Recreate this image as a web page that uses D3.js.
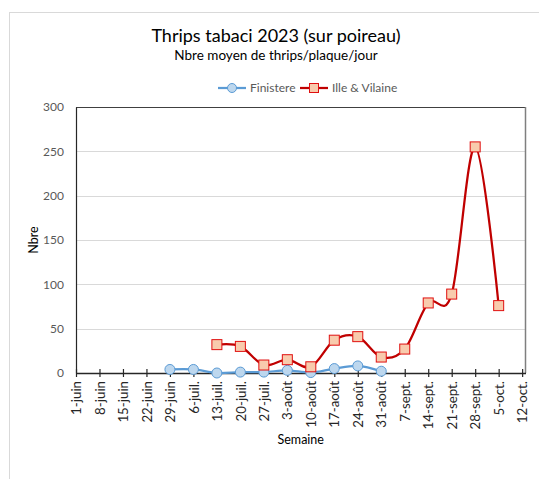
<!DOCTYPE html>
<html>
<head>
<meta charset="utf-8">
<script src="https://cdn.jsdelivr.net/npm/d3@7"></script>
<style>
  html, body { margin: 0; padding: 0; background: #fff; }
  svg { display: block; font-family: Lato, "Open Sans", sans-serif; font-weight: 400; }
</style>
</head>
<body>
<svg id="chart" width="539" height="479"></svg>
<script>
// ---- Data ----
const tickDates = ["2023-06-01","2023-06-08","2023-06-15","2023-06-22","2023-06-29","2023-07-06","2023-07-13","2023-07-20","2023-07-27","2023-08-03","2023-08-10","2023-08-17","2023-08-24","2023-08-31","2023-09-07","2023-09-14","2023-09-21","2023-09-28","2023-10-05","2023-10-12"];
const tickLabels = ["1-juin","8-juin","15-juin","22-juin","29-juin","6-juil.","13-juil.","20-juil.","27-juil.","3-août","10-août","17-août","24-août","31-août","7-sept.","14-sept.","21-sept.","28-sept.","5-oct.","12-oct."];

const finistereDates = ["2023-06-29","2023-07-06","2023-07-13","2023-07-20","2023-07-27","2023-08-03","2023-08-10","2023-08-17","2023-08-24","2023-08-31"];
const finistereValues = [4, 4, 0, 1, 1, 3, 0.5, 5, 8, 2];

const illeDates = ["2023-07-13","2023-07-20","2023-07-27","2023-08-03","2023-08-10","2023-08-17","2023-08-24","2023-08-31","2023-09-07","2023-09-14","2023-09-21","2023-09-28","2023-10-05"];
const illeValues = [32, 30, 9, 15, 7, 37, 41, 18, 27, 79, 89, 255, 76];

const yTicks = [0, 50, 100, 150, 200, 250, 300];

// ---- Layout ----
const parse = d3.utcParse("%Y-%m-%d");
const svg = d3.select("#chart");
const plot = { left: 76, right: 525.5, top: 107, bottom: 373 };

// outer chart border (light)
svg.append("rect").attr("x", 9.5).attr("y", 12.5).attr("width", 600).attr("height", 600)
  .attr("fill", "none").attr("stroke", "#d9d9d9");

const x = d3.scaleUtc()
  .domain([parse("2023-06-01"), parse("2023-10-13")])
  .range([plot.left, plot.right]);
const y = d3.scaleLinear().domain([0, 300]).range([plot.bottom, plot.top]);

// gridlines
svg.append("g").selectAll("line").data(yTicks.filter(d => d > 0 && d < 300)).join("line")
  .attr("x1", plot.left).attr("x2", plot.right)
  .attr("y1", d => Math.round(y(d)) + 0.5).attr("y2", d => Math.round(y(d)) + 0.5)
  .attr("stroke", "#d9d9d9").attr("stroke-width", 1);

// plot border
svg.append("line").attr("x1", plot.left).attr("x2", plot.right).attr("y1", plot.top + 0.5).attr("y2", plot.top + 0.5)
  .attr("stroke", "#404040");
svg.append("line").attr("x1", plot.right).attr("x2", plot.right).attr("y1", plot.top).attr("y2", plot.bottom)
  .attr("stroke", "#7f7f7f").attr("stroke-width", 1.5);

// y axis
const yAxis = d3.axisLeft(y).tickValues(yTicks).tickSize(0).tickPadding(12);
const gy = svg.append("g").attr("transform", `translate(${plot.left},0)`).call(yAxis);
gy.select(".domain").attr("stroke", "#262626").attr("stroke-width", 1.2);
gy.selectAll("text").attr("fill", "#595959").style("font-size", "12px").style("font-family", "Lato, sans-serif");

// x axis
const xAxis = d3.axisBottom(x).tickValues(tickDates.map(parse))
  .tickFormat((d, i) => tickLabels[i]).tickSizeInner(4).tickSizeOuter(0).tickPadding(8);
const gx = svg.append("g").attr("transform", `translate(0,${plot.bottom})`).call(xAxis);
gx.select(".domain").attr("stroke", "#262626").attr("stroke-width", 1.5);
gx.selectAll(".tick line").attr("stroke", "#262626").attr("y1", -4).attr("y2", 4).attr("stroke-width", 1.2);
gx.selectAll("text")
  .attr("fill", "#262626").style("font-size", "13.3px").style("font-family", "Lato, sans-serif")
  .attr("transform", "rotate(-90)")
  .attr("x", -8).attr("y", 0).attr("dy", "0.35em")
  .attr("text-anchor", "end");

// series
const finData = finistereDates.map((d, i) => ({ date: parse(d), value: finistereValues[i] }));
const illeData = illeDates.map((d, i) => ({ date: parse(d), value: illeValues[i] }));

const line = d3.line().x(d => x(d.date)).y(d => y(d.value)).curve(d3.curveCardinal.tension(0));

svg.append("path").datum(finData).attr("d", line)
  .attr("fill", "none").attr("stroke", "#5b9bd5").attr("stroke-width", 2.25);
svg.append("path").datum(illeData).attr("d", line)
  .attr("fill", "none").attr("stroke", "#c00000").attr("stroke-width", 2.25);

svg.append("g").selectAll("circle").data(finData).join("circle")
  .attr("cx", d => x(d.date)).attr("cy", d => y(d.value)).attr("r", 5)
  .attr("fill", "#bdd7ee").attr("stroke", "#5b9bd5").attr("stroke-width", 1);

svg.append("g").selectAll("rect").data(illeData).join("rect")
  .attr("x", d => x(d.date) - 5).attr("y", d => y(d.value) - 5)
  .attr("width", 10).attr("height", 10)
  .attr("fill", "#f8cbad").attr("stroke", "#e01010").attr("stroke-width", 1);

// titles
svg.append("text").attr("x", 276).attr("y", 42).attr("text-anchor", "middle")
  .style("font-size", "18px").attr("fill", "#000").text("Thrips tabaci 2023 (sur poireau)");
svg.append("text").attr("x", 276).attr("y", 60).attr("text-anchor", "middle")
  .style("font-size", "13.5px").attr("fill", "#000").text("Nbre moyen de thrips/plaque/jour");

// axis titles
svg.append("text").attr("transform", `translate(38,${(plot.top + plot.bottom) / 2}) rotate(-90)`)
  .attr("text-anchor", "middle").style("font-size", "12.5px").attr("fill", "#000").text("Nbre");
svg.append("text").attr("x", (plot.left + plot.right) / 2).attr("y", 444)
  .attr("text-anchor", "middle").style("font-size", "12.5px").attr("fill", "#000").text("Semaine");

// legend
const legY = 88;
const leg = svg.append("g");
leg.append("line").attr("x1", 218).attr("x2", 246).attr("y1", legY).attr("y2", legY)
  .attr("stroke", "#5b9bd5").attr("stroke-width", 2.25);
leg.append("circle").attr("cx", 232).attr("cy", legY).attr("r", 4.5)
  .attr("fill", "#bdd7ee").attr("stroke", "#5b9bd5");
leg.append("text").attr("x", 250).attr("y", legY).attr("dy", "0.35em")
  .style("font-size", "12px").attr("fill", "#595959").text("Finistere");
leg.append("line").attr("x1", 300).attr("x2", 328).attr("y1", legY).attr("y2", legY)
  .attr("stroke", "#c00000").attr("stroke-width", 2.25);
leg.append("rect").attr("x", 314 - 4.5).attr("y", legY - 4.5).attr("width", 9).attr("height", 9)
  .attr("fill", "#f8cbad").attr("stroke", "#e01010");
leg.append("text").attr("x", 332).attr("y", legY).attr("dy", "0.35em")
  .style("font-size", "12px").attr("fill", "#595959").text("Ille & Vilaine");
</script>
</body>
</html>
